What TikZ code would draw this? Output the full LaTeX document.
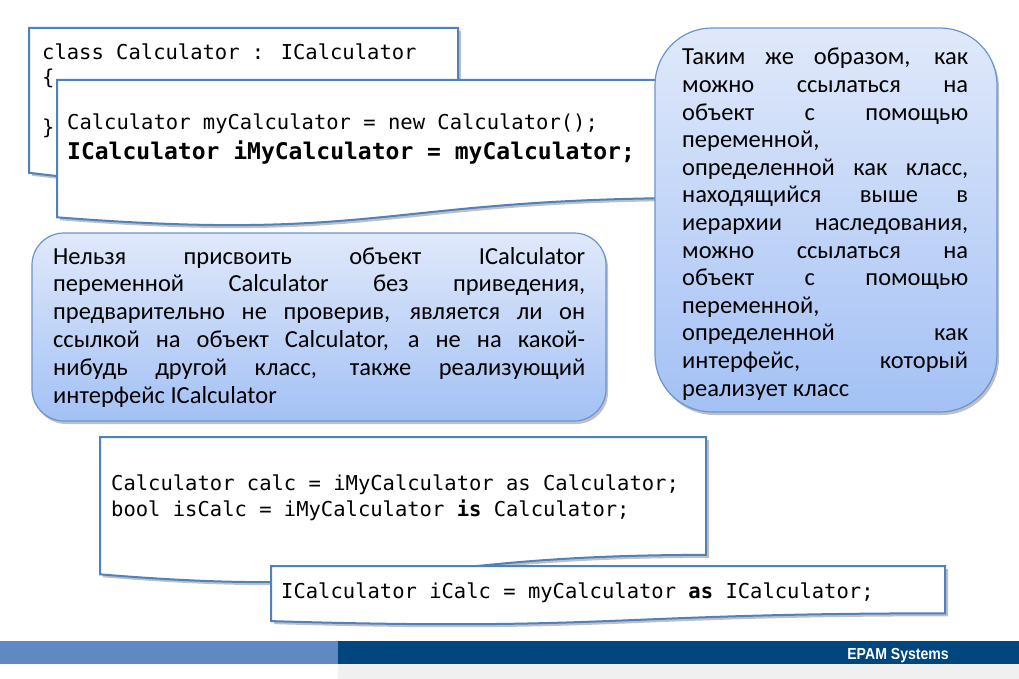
\documentclass[tikz,border=0pt]{standalone}
\usepackage{fontspec}
\usepackage{graphicx}
\setmainfont{Carlito}
\newfontfamily\codefont{DejaVu Sans Mono}
\newfontfamily\epamfont{Liberation Sans}
\usetikzlibrary{shadows}

\definecolor{boxblue}{RGB}{79,129,189}
\definecolor{roundedge}{RGB}{105,148,210}
\definecolor{gradtop}{RGB}{224,233,250}
\definecolor{gradbot}{RGB}{163,193,245}
\definecolor{barlight}{RGB}{96,137,194}
\definecolor{bardark}{RGB}{0,70,127}
\definecolor{bargray}{RGB}{240,240,240}

\tikzset{
  codeshape/.style={draw=boxblue, line width=2pt, fill=white,
    drop shadow={shadow xshift=3pt, shadow yshift=-3pt, opacity=0.35, fill=black!70}},
  roundshape/.style={draw=roundedge, line width=1.2pt, top color=gradtop, bottom color=gradbot,
    drop shadow={shadow xshift=2pt, shadow yshift=-3pt, opacity=0.35, fill=black!70}},
  codetext/.style={anchor=base west, inner sep=0pt, font=\codefont\fontsize{20.5}{25}\selectfont},
  codebold/.style={anchor=base west, inner sep=0pt, font=\codefont\bfseries\fontsize{23}{28}\selectfont},
  bodytext/.style={anchor=base west, inner sep=0pt, font=\fontsize{24.5}{27.6}\selectfont},
}

\newlength\jw
\newcommand\jl[1]{\hbox{\makebox[\jw][s]{#1}}}
\newcommand\nl[1]{\hbox{#1}}
\newcommand\docbox[5][]{%
  \draw[#1] (#2,#3) -- (#2+#4,#3) -- (#2+#4,#3+0.802*#5)
    .. controls (#2+0.5*#4,#3+0.802*#5) and (#2+0.5*#4,#3+1.107*#5) .. (#2,#3+0.934*#5) -- cycle;}

\begin{document}
\begin{tikzpicture}[x=1pt,y=-1pt]
\useasboundingbox (0,0) rectangle (1019,679);
\fill[white] (0,0) rectangle (1019,679);

% Box A
\docbox[codeshape]{29}{28}{429}{155}
\node[codetext] (a1) at (42,60) {class Calculator : ICalculator};
\node[codetext] (a2) at (42,85) {\{};
\node[codetext] (a3) at (42,135) {\}};

% Box B
\docbox[codeshape]{57}{80}{650}{147}
\node[codetext] (b1) at (67,130) {Calculator myCalculator = new Calculator();};
\node[codebold] (b2) at (67,160) {ICalculator iMyCalculator = myCalculator;};

% Right rounded box
\draw[roundshape, rounded corners=57pt] (655,28) rectangle (997,412);
\node[bodytext] (rtext) at (682,65) {\setlength\jw{286pt}\vtop{\baselineskip=27.6pt\lineskiplimit=-50pt
  \jl{Таким же образом, как}
  \jl{можно ссылаться на}
  \jl{объект с помощью}
  \nl{переменной,}
  \jl{определенной как класс,}
  \jl{находящийся выше в}
  \jl{иерархии наследования,}
  \jl{можно ссылаться на}
  \jl{объект с помощью}
  \nl{переменной,}
  \jl{определенной как}
  \jl{интерфейс, который}
  \nl{реализует класс}}};

% Left rounded box
\draw[roundshape, rounded corners=32pt] (32,233) rectangle (606,421);
\node[bodytext] (ltext) at (53,264) {\setlength\jw{532pt}\vtop{\baselineskip=27.8pt\lineskiplimit=-50pt
  \jl{Нельзя присвоить объект ICalculator}
  \jl{переменной Calculator без приведения,}
  \jl{предварительно не проверив, является ли он}
  \jl{ссылкой на объект Calculator, а не на какой-}
  \jl{нибудь другой класс, также реализующий}
  \nl{интерфейс ICalculator}}};

% Box C
\docbox[codeshape]{100}{437}{606}{147}
\node[codetext] (c1) at (111,490) {Calculator calc = iMyCalculator as Calculator;};
\node[codetext] (c2) at (111,516) {bool isCalc = iMyCalculator {\bfseries is} Calculator;};

% Box D
\docbox[codeshape]{271}{566}{674}{59}
\node[codetext] (d1) at (281,598) {ICalculator iCalc = myCalculator {\bfseries as} ICalculator;};

% Footer
\fill[barlight] (0,641) rectangle (338,664);
\fill[bardark] (338,641) rectangle (1019,664);
\fill[bargray] (338,664) rectangle (1019,679);
\node[anchor=base east, inner sep=0pt, text=white, font=\epamfont\bfseries\fontsize{16}{19}\selectfont] (epam) at (949,659) {\scalebox{0.88}[1]{EPAM Systems}};
\end{tikzpicture}
\end{document}
